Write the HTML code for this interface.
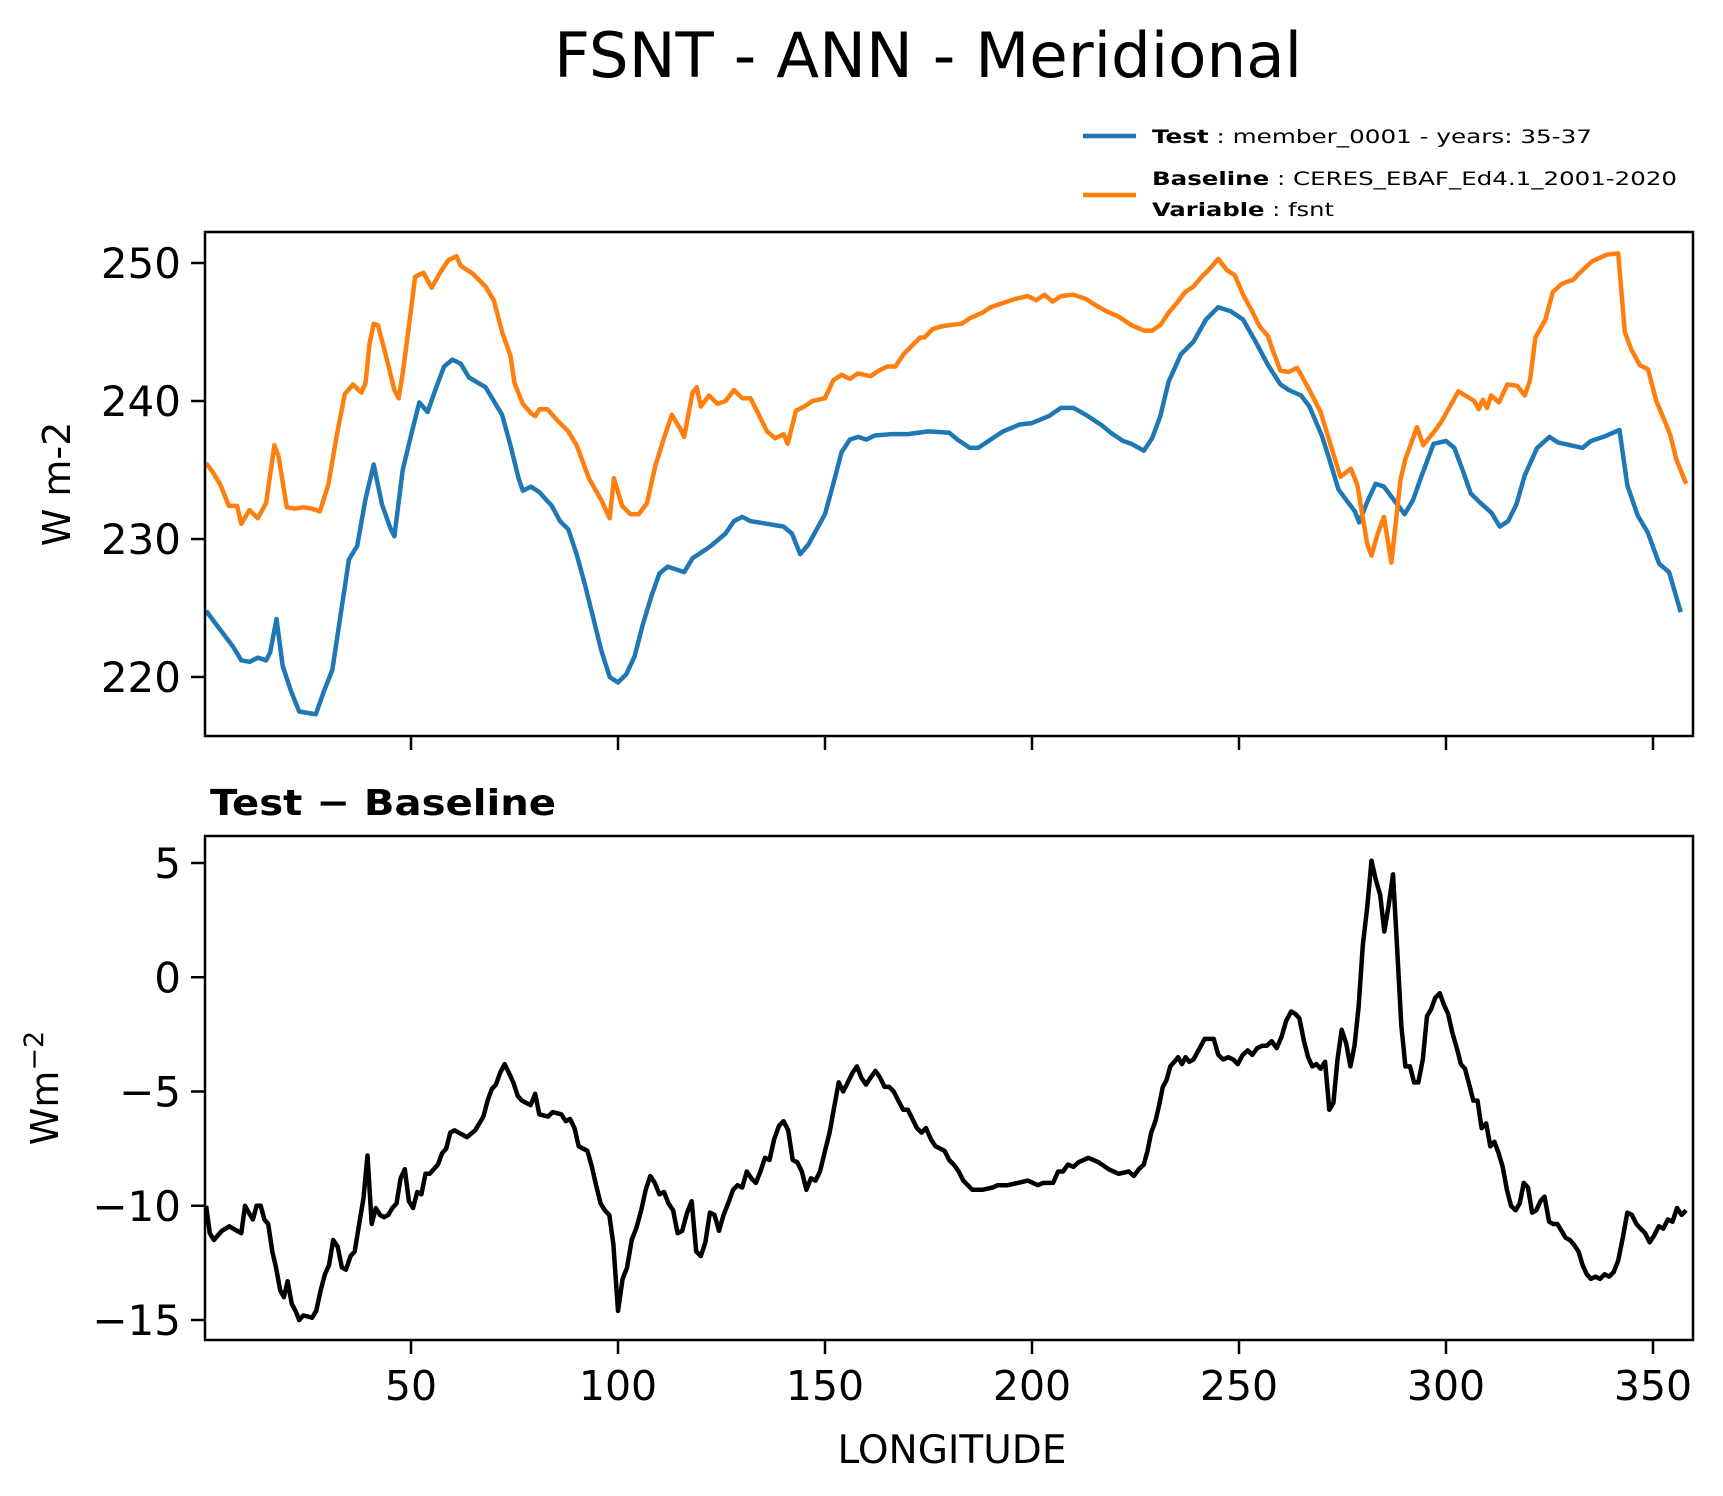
<!DOCTYPE html>
<html><head><meta charset="utf-8"><title>FSNT - ANN - Meridional</title>
<style>
html,body{margin:0;padding:0;background:#fff;}
svg{display:block;font-family:"DejaVu Sans","Liberation Sans",sans-serif;}
</style></head>
<body>
<svg id="fig" xmlns="http://www.w3.org/2000/svg" width="1723" height="1496" viewBox="0 0 1723 1496">
<rect x="0" y="0" width="1723" height="1496" fill="#fff"/>
<text x="928" y="77" font-size="62" text-anchor="middle" textLength="748" lengthAdjust="spacingAndGlyphs">FSNT - ANN - Meridional</text>
<g>
<line x1="1083" y1="136" x2="1136" y2="136" stroke="#1f77b4" stroke-width="4.5"/>
<text x="1152" y="143" font-size="19" textLength="440" lengthAdjust="spacingAndGlyphs"><tspan font-weight="bold">Test</tspan> : member_0001 - years: 35-37</text>
<line x1="1083" y1="195" x2="1136" y2="195" stroke="#ff7f0e" stroke-width="4.5"/>
<text x="1152" y="185" font-size="19" textLength="525" lengthAdjust="spacingAndGlyphs"><tspan font-weight="bold">Baseline</tspan> : CERES_EBAF_Ed4.1_2001-2020</text>
<text x="1152" y="216" font-size="19" textLength="182" lengthAdjust="spacingAndGlyphs"><tspan font-weight="bold">Variable</tspan> : fsnt</text>
</g>
<g id="top"></g>
<g id="bot"></g>
<text x="210" y="815" font-size="36" font-weight="bold" textLength="346" lengthAdjust="spacingAndGlyphs">Test − Baseline</text>
<text transform="translate(70,484) rotate(-90)" font-size="38" text-anchor="middle">W m-2</text>
<text transform="translate(58,1088) rotate(-90)" font-size="38" text-anchor="middle">Wm<tspan baseline-shift="super" font-size="27">−2</tspan></text>
<text x="952" y="1463" font-size="39" text-anchor="middle">LONGITUDE</text>
</svg>
<script>
// ---------- data ----------
const xTicks = [50,100,150,200,250,300,350];
const topYTicks = [220,230,240,250];
const botYTicks = [5,0,-5,-10,-15];
const botYTickLabels = ["5","0","\u22125","\u221210","\u221215"];

const testLon = [0.5,3,7,9,11,13,15,16,17.5,19,21,23,27,29,31,33,35,37,39,41,43,45,46,48,50,52,54,56,58,60,62,64,68,70,72,74,76,77,79,81,84,86,88,90,92,94,96,98,100,102,104,106,108,110,112,116,118,122,126,128,130,132,136,140,142,144,146,148,150,152,154,156,158,160,162,166,170,175,180,182,185,187,190,193,197,200,204,207,210,213,217,219,222,224,227,229,231,233,236,239,242,245,248,251,254,257,260,262,265,267,270,272,274,276,278,279,281,283,285,287,290,292,294,297,300,302,304,306,308,311,313,315,317,319,322,325,327,330,333,335,338,341.9,343.8,346.3,348.7,351.5,353.9,356.7];
const testVal = [224.8,223.8,222.2,221.2,221.1,221.4,221.2,221.8,224.2,220.8,219,217.5,217.3,219,220.5,224.5,228.5,229.5,232.9,235.4,232.5,230.8,230.2,235,237.5,239.9,239.2,240.9,242.5,243,242.7,241.7,241,240,239,236.8,234.4,233.5,233.8,233.4,232.4,231.3,230.7,228.9,226.7,224.3,221.9,220,219.6,220.2,221.5,223.8,225.8,227.5,228,227.6,228.6,229.4,230.4,231.3,231.6,231.3,231.1,230.9,230.4,228.9,229.6,230.7,231.8,234,236.3,237.2,237.4,237.2,237.5,237.6,237.6,237.8,237.7,237.2,236.6,236.6,237.2,237.8,238.3,238.4,238.9,239.5,239.5,239,238.2,237.7,237.1,236.9,236.4,237.3,238.9,241.4,243.4,244.3,245.9,246.8,246.5,245.9,244.3,242.6,241.2,240.8,240.4,239.6,237.5,235.6,233.6,232.8,232,231.2,232.7,234,233.8,233,231.8,232.8,234.5,236.9,237.1,236.6,235,233.3,232.7,231.9,230.9,231.3,232.5,234.6,236.6,237.4,237,236.8,236.6,237.1,237.4,237.9,233.9,231.7,230.5,228.2,227.6,224.7];

const baseLon = [0.5,2,4,6,8,9,11,13,15,17,18,20,22,24,26,28,30,32,34,36,38,39,40,41,42,44,46,47,48,50,51,53,55,57,59,61,62,65,68,70,72,74,75,77,79,80,81,83,85,88,90,93,96,98,99,101,103,105,107,109,111,113,115,116,118,119,120,122,124,126,128,130,132,134,136,138,140,141,143,145,147,150,152,154,156,158,161,163,165,167,169,171,173,174,176,178,180,183,185,188,190,193,196,199,201,203,205,207,210,213,215,218,221,224,227,229,231,233,235,237,239,241,243,245,247,249,251,253,255,257,258,260,262,264,265,267,269.7,274.5,277,278.6,281,282,283.5,285,286.8,289,290.2,293,294.5,297.2,298.9,303,306.8,307.9,308.9,309.9,310.9,312.8,314.8,317.2,319,320.3,321.6,324,325.8,328,330.8,332,335.2,338.8,341.6,343.2,344.8,346.8,348.8,350.8,353.2,354.2,355.6,358];
const baseVal = [235.5,234.9,233.9,232.4,232.4,231.1,232.1,231.5,232.6,236.8,236,232.3,232.2,232.3,232.2,232,233.9,237.4,240.5,241.2,240.6,241.3,244.2,245.6,245.5,243.2,240.8,240.2,242,246.6,249,249.3,248.2,249.3,250.2,250.5,249.8,249.2,248.3,247.3,245,243.3,241.3,239.8,239.1,238.9,239.4,239.4,238.7,237.8,236.8,234.4,232.8,231.5,234.4,232.4,231.8,231.8,232.6,235.3,237.2,239,238,237.4,240.6,241,239.6,240.4,239.8,240,240.8,240.2,240.2,239,237.8,237.3,237.6,236.9,239.3,239.6,240,240.2,241.5,241.9,241.6,242,241.8,242.2,242.5,242.5,243.4,244,244.6,244.6,245.2,245.4,245.5,245.6,246,246.4,246.8,247.1,247.4,247.6,247.3,247.7,247.2,247.6,247.7,247.4,247,246.5,246.1,245.5,245.1,245.1,245.5,246.4,247.1,247.9,248.3,249,249.6,250.3,249.5,249.1,247.7,246.6,245.4,244.7,243.8,242.2,242.1,242.4,241.9,240.8,239.2,234.5,235.1,233.9,229.6,228.8,230.4,231.6,228.3,234.3,235.8,238.1,236.8,237.8,238.5,240.7,240,239.4,240.1,239.5,240.4,239.9,241.2,241.1,240.4,241.5,244.6,245.9,247.9,248.5,248.8,249.2,250.1,250.6,250.7,245,243.7,242.6,242.3,240,238.3,237.5,235.8,234];

const diffLon = [0.5,1.4,2.4,4.3,6.1,8,9,9.9,10.8,11.8,12.7,13.7,14.6,15.5,16.5,17.4,18.4,19.3,20.2,21.2,22.1,23,24,26.1,27.1,28.2,29.2,30.2,31.2,32.3,33.3,34.3,35.4,36.4,37.4,38.5,39.5,40.5,41.5,42.5,43.5,44.5,45.5,46.5,47.5,48.5,49.5,50.5,51.5,52.5,53.5,54.5,55.5,56.5,57.5,58.5,59.5,60.5,62.5,63.5,65.5,66.5,67.5,68.5,69.5,70.5,71.5,72.6,73.7,74.7,75.8,76.8,78.9,80,81,83.1,84.2,86.3,87.4,88.4,89.5,90.5,92.6,93.7,94.7,95.8,96.8,97.9,98.9,100,101.1,102.2,103.3,104.4,105.6,106.7,107.8,108.9,110,111.1,112.2,113.3,114.4,115.5,116.7,117.8,118.9,120,121.1,122.2,123.3,124.4,125.5,126.6,127.8,128.9,130,131.1,132.2,133.3,134.4,135.5,136.6,137.7,138.9,140,141.1,142.2,143.3,144.4,145.5,146.6,147.7,148.8,150,151.1,152.2,153.3,154.4,155.5,156.6,157.7,158.8,159.9,161,162.2,163.3,164.4,165.5,166.6,167.7,168.9,170,171.1,172.2,173.3,174.4,175.6,176.7,178.9,180,181.1,182.3,183.4,184.5,185.6,188,190.5,191.7,194.1,196.6,199,201.4,202.7,205.1,206.3,207.5,208.7,210,211.2,213.6,216.1,218.5,220.9,223.4,224.6,225.8,227,227.9,228.8,229.8,230.7,231.6,232.5,233.4,234.4,235.3,236.2,237.1,238,239,239.9,240.8,241.7,242.7,243.9,245,246.2,247.4,248.6,249.7,250.9,252.1,253.2,254.4,255.6,256.7,257.9,259.1,260.3,261.4,262.6,263.6,264.6,265.7,266.7,267.7,268.7,269.7,270.8,271.8,272.8,273.8,274.8,275.9,276.9,277.9,278.9,279.9,281,282,283,284.1,285.1,286.1,287.2,288.2,289.2,290.2,291.3,292.3,293.3,294.4,295.4,296.4,297.4,298.5,299.5,300.5,301.5,302.6,303.6,304.6,305.6,306.6,307.6,308.6,309.7,310.7,311.7,312.7,313.7,314.7,315.7,316.8,317.8,318.8,319.8,320.8,321.8,322.8,323.8,324.9,325.9,326.9,327.9,328.9,329.9,330.9,332,333,334,335,336.1,337.2,338.3,339.4,340.5,341.6,342.7,343.8,344.9,346,347,348.1,349.2,350.3,351.4,352.5,353.6,354.7,355.8,356.9,358];
const diffVal = [-10,-11.2,-11.5,-11.1,-10.9,-11.1,-11.2,-10,-10.3,-10.6,-10,-10,-10.6,-10.8,-12,-12.7,-13.7,-14,-13.3,-14.3,-14.6,-15,-14.8,-14.9,-14.6,-13.7,-13,-12.6,-11.5,-11.8,-12.7,-12.8,-12.2,-12,-10.9,-9.7,-7.8,-10.8,-10.1,-10.4,-10.5,-10.4,-10.1,-9.9,-8.8,-8.4,-9.8,-10.1,-9.4,-9.5,-8.6,-8.6,-8.4,-8.2,-7.7,-7.5,-6.8,-6.7,-6.9,-7,-6.7,-6.4,-6.1,-5.4,-4.9,-4.7,-4.2,-3.8,-4.2,-4.6,-5.2,-5.4,-5.6,-5.1,-6,-6.1,-5.9,-6,-6.3,-6.2,-6.6,-7.4,-7.6,-8.3,-9.1,-9.9,-10.2,-10.4,-11.7,-14.6,-13.2,-12.7,-11.5,-11,-10.2,-9.3,-8.7,-9,-9.5,-9.4,-9.9,-10.2,-11.2,-11.1,-10.3,-9.8,-12,-12.2,-11.6,-10.3,-10.4,-11.1,-10.4,-9.9,-9.3,-9.1,-9.2,-8.5,-8.8,-9,-8.5,-7.9,-8,-7.1,-6.5,-6.3,-6.7,-8,-8.1,-8.5,-9.3,-8.8,-8.9,-8.5,-7.6,-6.8,-5.7,-4.6,-5,-4.6,-4.2,-3.9,-4.4,-4.7,-4.4,-4.1,-4.4,-4.8,-4.8,-5,-5.4,-5.8,-5.8,-6.2,-6.6,-6.8,-6.6,-7.1,-7.4,-7.6,-8,-8.2,-8.5,-8.9,-9.1,-9.3,-9.3,-9.2,-9.1,-9.1,-9,-8.9,-9.1,-9,-9,-8.5,-8.5,-8.2,-8.3,-8.1,-7.9,-8.1,-8.4,-8.6,-8.5,-8.7,-8.4,-8.2,-7.6,-6.8,-6.3,-5.6,-4.8,-4.5,-3.9,-3.7,-3.5,-3.8,-3.5,-3.7,-3.6,-3.3,-3,-2.7,-2.7,-2.7,-3.4,-3.6,-3.5,-3.6,-3.8,-3.4,-3.2,-3.4,-3.1,-3,-3,-2.8,-3.1,-2.6,-1.9,-1.5,-1.6,-1.8,-2.8,-3.5,-3.9,-3.8,-4,-3.7,-5.8,-5.5,-3.6,-2.3,-2.9,-3.9,-3,-1.3,1.4,3.1,5.1,4.3,3.6,2,3.1,4.5,1.3,-2.1,-3.9,-3.9,-4.6,-4.6,-3.6,-1.7,-1.4,-0.9,-0.7,-1.2,-1.6,-2.4,-3.1,-3.8,-4,-4.7,-5.4,-5.4,-6.6,-6.4,-7.4,-7.2,-7.7,-8.3,-9.3,-10,-10.2,-9.9,-9,-9.2,-10.3,-10.2,-9.8,-9.6,-10.7,-10.8,-10.8,-11.1,-11.4,-11.5,-11.7,-12,-12.6,-13,-13.2,-13.1,-13.2,-13,-13.1,-12.9,-12.4,-11.4,-10.3,-10.4,-10.8,-11,-11.2,-11.6,-11.3,-10.9,-11,-10.6,-10.7,-10.1,-10.4,-10.2];

// ---------- layout ----------
const NS = "http://www.w3.org/2000/svg";
const L = 205, R = 1693;
const TT = 232, TB = 736, BT = 836, BB = 1340;
function xs(l){ return 411 + (l - 50) * 4.14; }
function ysTop(v){ return 263 + (250 - v) * 13.8; }
function ysBot(v){ return 863 + (5 - v) * 22.85; }

function mk(tag, attrs, parent){
  const e = document.createElementNS(NS, tag);
  for (const k in attrs) e.setAttribute(k, attrs[k]);
  parent.appendChild(e);
  return e;
}
function linePath(lons, vals, ys){
  let d = "";
  for (let i = 0; i < lons.length; i++) d += (i ? "L" : "M") + xs(lons[i]).toFixed(1) + "," + ys(vals[i]).toFixed(1);
  return d;
}

function panel(g, top, bottom, ys, yTicks, yLabels, showXLabels, prefix){
  const clipId = prefix + "-clip";
  const cp = mk("clipPath", {id: clipId}, g);
  mk("rect", {x: L, y: top, width: R - L, height: bottom - top}, cp);
  yTicks.forEach((t, i) => {
    const y = ys(t);
    const tk = mk("line", {x1: L - 14, x2: L, y1: y, y2: y, stroke: "#000", "stroke-width": 2.5}, g);
    
    
    const tx = mk("text", {x: L - 24, y: y + 15, "font-size": 42, "text-anchor": "end"}, g);
    tx.textContent = yLabels[i];
    
    
  });
  xTicks.forEach(t => {
    const x = xs(t);
    const tk = mk("line", {x1: x, x2: x, y1: bottom, y2: bottom + 14, stroke: "#000", "stroke-width": 2.5}, g);
    
    
    if (showXLabels){
      const tx = mk("text", {x: x, y: bottom + 60, "font-size": 41, "text-anchor": "middle"}, g);
      tx.textContent = String(t);
      
      
    }
  });
  return clipId;
}

const gTop = document.getElementById("top");
const c1 = panel(gTop, TT, TB, ysTop, topYTicks, topYTicks.map(String), false, "top");
const testLine = mk("path", {d: linePath(testLon, testVal, ysTop), fill: "none", stroke: "#1f77b4", "stroke-width": 4.5, "stroke-linejoin": "round", "clip-path": "url(#" + c1 + ")"}, gTop);


const baseLine = mk("path", {d: linePath(baseLon, baseVal, ysTop), fill: "none", stroke: "#ff7f0e", "stroke-width": 4.5, "stroke-linejoin": "round", "clip-path": "url(#" + c1 + ")"}, gTop);


const f1 = mk("rect", {x: L, y: TT, width: R - L, height: TB - TT, fill: "none", stroke: "#000", "stroke-width": 2.5}, gTop);



const gBot = document.getElementById("bot");
const c2 = panel(gBot, BT, BB, ysBot, botYTicks, botYTickLabels, true, "bot");
const diffLine = mk("path", {d: linePath(diffLon, diffVal, ysBot), fill: "none", stroke: "#000", "stroke-width": 4.5, "stroke-linejoin": "round", "clip-path": "url(#" + c2 + ")"}, gBot);


const f2 = mk("rect", {x: L, y: BT, width: R - L, height: BB - BT, fill: "none", stroke: "#000", "stroke-width": 2.5}, gBot);


</script>
</body></html>
